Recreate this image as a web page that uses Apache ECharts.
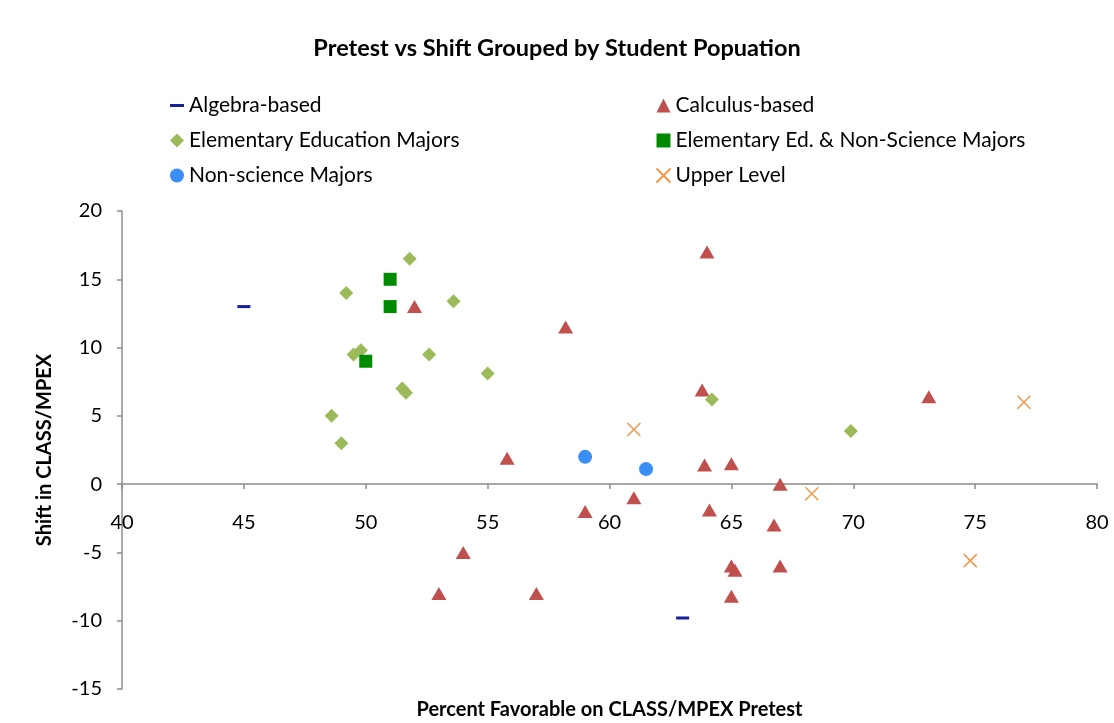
<!DOCTYPE html>
<html>
<head>
<meta charset="utf-8">
<script src="https://cdn.jsdelivr.net/npm/echarts@6/dist/echarts.min.js"></script>
<style>
  html, body { margin: 0; padding: 0; background: #fff; }
  #chart-container { width: 1114px; height: 723px; }
</style>
</head>
<body>
<div id="chart-container"></div>
<script>
// [pretest %, shift]
const algebraBased = [[45, 13], [63, -9.8]];
const calculusBased = [
  [52, 13], [64, 17], [58.2, 11.5], [63.8, 6.9], [73.1, 6.4], [55.8, 1.9],
  [63.9, 1.4], [65, 1.5], [67, 0], [61, -1], [59, -2], [64.1, -1.9],
  [66.75, -3], [54, -5], [53, -8], [57, -8], [65, -6], [65.15, -6.3],
  [67, -6], [65, -8.2],
];
const elemEdMajors = [
  [51.8, 16.5], [49.2, 14], [53.6, 13.4], [49.5, 9.5], [49.8, 9.8],
  [52.6, 9.5], [55, 8.1], [51.5, 7], [51.65, 6.7], [48.6, 5], [49, 3],
  [64.2, 6.2], [69.9, 3.9],
];
const elemEdNonSci = [[51, 15], [51, 13], [50, 9]];
const nonScienceMajors = [[59, 2], [61.5, 1.1]];
const upperLevel = [[61, 4], [68.3, -0.7], [77, 6], [74.8, -5.6]];

const seriesNames = [
  'Algebra-based', 'Calculus-based', 'Elementary Education Majors',
  'Elementary Ed. & Non-Science Majors', 'Non-science Majors', 'Upper Level',
];

const dashPath = 'path://M0,0h14v3h-14z';
const crossPath = 'path://M0,0L10,10M10,0L0,10';
const font = 'Lato, "Open Sans", sans-serif';

const dom = document.getElementById('chart-container');
const myChart = echarts.init(dom, null, { renderer: 'canvas' });

const legendText = { fontFamily: font, fontSize: 21, color: '#000' };

// the x axis crosses y = 0; shift it up from the grid bottom by that many pixels
const gridTop = 211;
const gridBottom = 34;
const yMin = -15;
const yMax = 20;
const plotHeight = 723 - gridTop - gridBottom;
const zeroShift = Math.round((-yMin / (yMax - yMin)) * plotHeight);

const option = {
  animation: false,
  backgroundColor: '#fff',
  title: {
    text: 'Pretest vs Shift Grouped by Student Popuation',
    left: 'center',
    top: 31,
    textStyle: { fontFamily: font, fontWeight: 'bold', fontSize: 23.5, color: '#000' },
  },
  legend: [
    {
      orient: 'vertical',
      left: 165,
      top: 90,
      itemWidth: 14,
      itemHeight: 14,
      itemGap: 14,
      textStyle: legendText,
      data: [
        { name: seriesNames[0], icon: dashPath },
        { name: seriesNames[2], icon: 'diamond' },
        { name: seriesNames[4], icon: 'circle' },
      ],
    },
    {
      orient: 'vertical',
      left: 649,
      top: 90,
      itemWidth: 14,
      itemHeight: 14,
      itemGap: 14,
      textStyle: legendText,
      data: [
        { name: seriesNames[1], icon: 'triangle' },
        { name: seriesNames[3], icon: 'rect' },
        { name: seriesNames[5], icon: crossPath },
      ],
    },
  ],
  grid: { left: 122, right: 17, top: gridTop, bottom: gridBottom, outerBoundsMode: 'none' },
  xAxis: {
    type: 'value',
    min: 40,
    max: 80,
    interval: 5,
    offset: -zeroShift,
    name: 'Percent Favorable on CLASS/MPEX Pretest',
    nameLocation: 'middle',
    nameGap: zeroShift + 11,
    nameTextStyle: { fontFamily: font, fontWeight: 'bold', fontSize: 20, color: '#000' },
    axisLine: { onZero: false, lineStyle: { color: '#8c8c8c', width: 1.5 } },
    axisTick: { show: true, length: 5, lineStyle: { color: '#8c8c8c', width: 1.5 } },
    axisLabel: { margin: 29, fontFamily: font, fontSize: 20, color: '#000' },
    splitLine: { show: false },
  },
  yAxis: {
    type: 'value',
    min: yMin,
    max: yMax,
    interval: 5,
    name: 'Shift in CLASS/MPEX',
    nameLocation: 'middle',
    nameGap: 67,
    nameRotate: 90,
    nameTextStyle: { fontFamily: font, fontWeight: 'bold', fontSize: 20, color: '#000' },
    axisLine: { show: true, lineStyle: { color: '#8c8c8c', width: 1.5 } },
    axisTick: { show: true, length: 5, lineStyle: { color: '#8c8c8c', width: 1.5 } },
    axisLabel: { margin: 20, fontFamily: font, fontSize: 20, color: '#000' },
    splitLine: { show: false },
  },
  series: [
    {
      name: seriesNames[0],
      type: 'scatter',
      symbol: dashPath,
      symbolSize: [13, 3],
      itemStyle: { color: '#17229a', opacity: 1 },
      data: algebraBased,
    },
    {
      name: seriesNames[1],
      type: 'scatter',
      symbol: 'triangle',
      symbolSize: [15, 13],
      itemStyle: { color: '#c0504d', opacity: 1 },
      data: calculusBased,
    },
    {
      name: seriesNames[2],
      type: 'scatter',
      symbol: 'diamond',
      symbolSize: [14, 14],
      itemStyle: { color: '#9bbb59', opacity: 1 },
      data: elemEdMajors,
    },
    {
      name: seriesNames[3],
      type: 'scatter',
      symbol: 'rect',
      symbolSize: 13,
      itemStyle: { color: '#008a00', opacity: 1 },
      data: elemEdNonSci,
    },
    {
      name: seriesNames[4],
      type: 'scatter',
      symbol: 'circle',
      symbolSize: 14,
      itemStyle: { color: '#3a8ef6', opacity: 1 },
      data: nonScienceMajors,
    },
    {
      name: seriesNames[5],
      type: 'scatter',
      symbol: crossPath,
      symbolSize: 13,
      itemStyle: { color: 'none', borderColor: '#f79646', borderWidth: 1.5, opacity: 1 },
      data: upperLevel,
    },
  ],
};

myChart.setOption(option);
window.addEventListener('resize', myChart.resize);
</script>
</body>
</html>
